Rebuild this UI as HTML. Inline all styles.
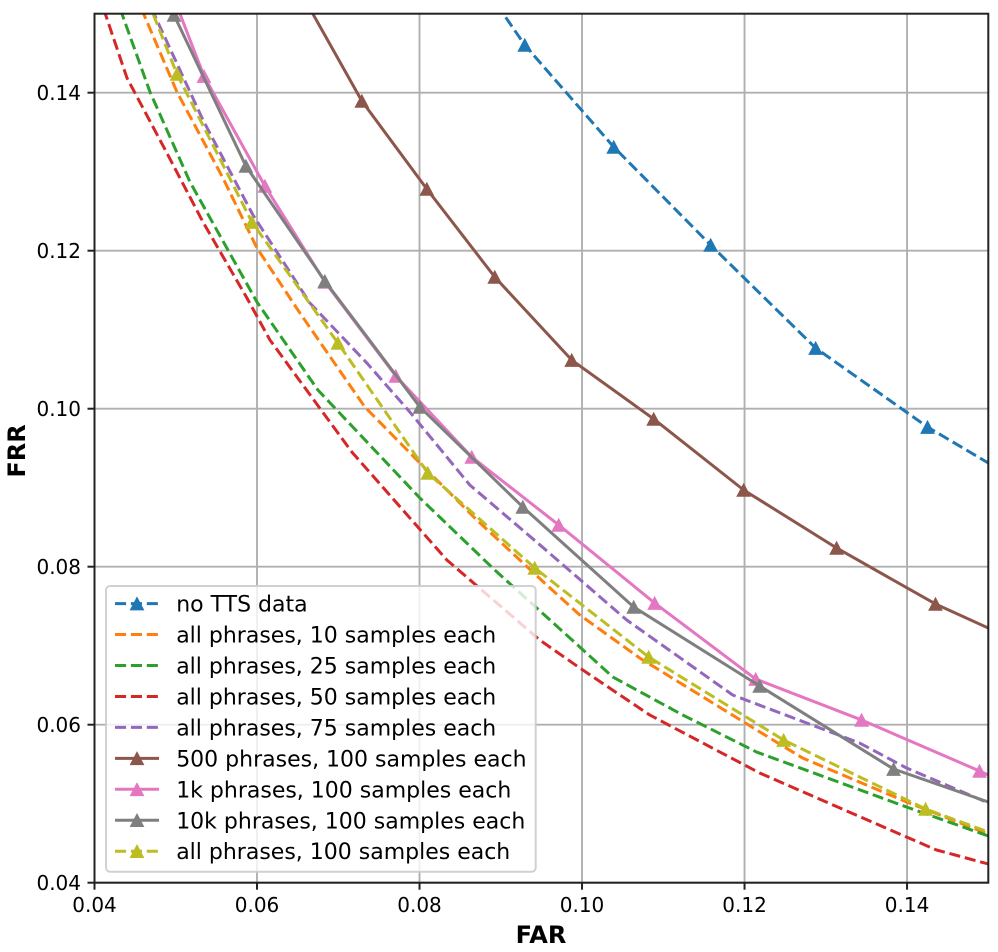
<!DOCTYPE html>
<html>
<head>
<meta charset="utf-8">
<title>FAR vs FRR</title>
<style>
html,body{margin:0;padding:0;background:#fff;width:998px;height:952px;overflow:hidden}
svg{display:block}
text{font-family:"DejaVu Sans",sans-serif;fill:#000}
</style>
</head>
<body>
<svg id="chart" xmlns="http://www.w3.org/2000/svg" width="998" height="952" viewBox="0 0 998 952"></svg>
<script>
const xTicks = [0.04, 0.06, 0.08, 0.10, 0.12, 0.14];
const yTicks = [0.04, 0.06, 0.08, 0.10, 0.12, 0.14];
const xTickLabels = ["0.04", "0.06", "0.08", "0.10", "0.12", "0.14"];
const yTickLabels = ["0.04", "0.06", "0.08", "0.10", "0.12", "0.14"];

const noTtsFar = [0.0895, 0.09295, 0.1039, 0.11583, 0.12875, 0.14252, 0.15];
const noTtsFrr = [0.1512, 0.14604, 0.13313, 0.12072, 0.10768, 0.09768, 0.09313];
const s10Far = [0.0450, 0.05015, 0.05581, 0.05999, 0.06528, 0.07327, 0.08004, 0.08705, 0.09566, 0.09972, 0.1071, 0.12149, 0.12715, 0.13994, 0.15];
const s10Frr = [0.1525, 0.14009, 0.1292, 0.12034, 0.11211, 0.10022, 0.09313, 0.08591, 0.07768, 0.07389, 0.06844, 0.05933, 0.05578, 0.05022, 0.04616];
const s25Far = [0.0425, 0.04683, 0.05175, 0.05999, 0.06749, 0.08004, 0.08926, 0.09443, 0.09972, 0.10378, 0.11239, 0.12149, 0.13994, 0.15];
const s25Frr = [0.1525, 0.14009, 0.1287, 0.11351, 0.10237, 0.0887, 0.07958, 0.07477, 0.06984, 0.06604, 0.06123, 0.05654, 0.04958, 0.04591];
const s50Far = [0.0405, 0.044, 0.04904, 0.05335, 0.05876, 0.06159, 0.07167, 0.08336, 0.0948, 0.09972, 0.10833, 0.12186, 0.13994, 0.14363, 0.15];
const s50Frr = [0.1525, 0.14186, 0.13211, 0.12363, 0.11401, 0.1087, 0.09452, 0.08085, 0.07072, 0.06718, 0.06123, 0.05389, 0.04578, 0.04414, 0.04237];
const s75Far = [0.0462, 0.05335, 0.0595, 0.06651, 0.07352, 0.07881, 0.08619, 0.09455, 0.1055, 0.11854, 0.13416, 0.13994, 0.15];
const s75Frr = [0.1525, 0.13654, 0.12452, 0.11338, 0.10578, 0.09958, 0.09034, 0.083, 0.07325, 0.06376, 0.05768, 0.05452, 0.05009];
const p500Far = [0.0655, 0.0729, 0.0809, 0.08926, 0.09873, 0.10882, 0.11989, 0.13133, 0.1435, 0.15];
const p500Frr = [0.1525, 0.13895, 0.12781, 0.11667, 0.10616, 0.0987, 0.08971, 0.08237, 0.07528, 0.07224];
const p1kFar = [0.0498, 0.05347, 0.06097, 0.06835, 0.07708, 0.08643, 0.09713, 0.10894, 0.12137, 0.1344, 0.14892, 0.15];
const p1kFrr = [0.1519, 0.14211, 0.12819, 0.11604, 0.10414, 0.09389, 0.08528, 0.0754, 0.06578, 0.0606, 0.05414, 0.05363];
const p10kFar = [0.0490, 0.04978, 0.05863, 0.06835, 0.08004, 0.09271, 0.10636, 0.12186, 0.13834, 0.15];
const p10kFrr = [0.1515, 0.14984, 0.13072, 0.11616, 0.10022, 0.08756, 0.0749, 0.0649, 0.05439, 0.05022];
const allFar = [0.0465, 0.05015, 0.05937, 0.06995, 0.08102, 0.09418, 0.1082, 0.12481, 0.14228, 0.15];
const allFrr = [0.1518, 0.14237, 0.12363, 0.10832, 0.09186, 0.07984, 0.06857, 0.05806, 0.04933, 0.04642];

const seriesLabels = ["no TTS data", "all phrases, 10 samples each", "all phrases, 25 samples each", "all phrases, 50 samples each", "all phrases, 75 samples each", "500 phrases, 100 samples each", "1k phrases, 100 samples each", "10k phrases, 100 samples each", "all phrases, 100 samples each"];
const seriesFar = [noTtsFar, s10Far, s25Far, s50Far, s75Far, p500Far, p1kFar, p10kFar, allFar];
const seriesFrr = [noTtsFrr, s10Frr, s25Frr, s50Frr, s75Frr, p500Frr, p1kFrr, p10kFrr, allFrr];
const seriesColors = ["#1f77b4", "#ff7f0e", "#2ca02c", "#d62728", "#9467bd", "#8c564b", "#e377c2", "#7f7f7f", "#bcbd22"];
const seriesDashed = [true, true, true, true, true, false, false, false, true];
const seriesMarkers = [true, false, false, false, false, true, true, true, true];

const NS = "http://www.w3.org/2000/svg";
const svg = document.getElementById("chart");
const L = 94.5, R = 988.3, T = 13.7, B = 882.7;
const xMin = 0.04, xMax = 0.15, yMin = 0.04, yMax = 0.15;
function sx(v) { return L + (v - xMin) / (xMax - xMin) * (R - L); }
function sy(v) { return B - (v - yMin) / (yMax - yMin) * (B - T); }
function mk(tag, attrs, parent) {
  const e = document.createElementNS(NS, tag);
  for (const k in attrs) e.setAttribute(k, attrs[k]);
  (parent || svg).appendChild(e);
  return e;
}
function triPoints(cx, cy) {
  return [[cx, cy - 7.2], [cx - 7.4, cy + 6.8], [cx + 7.4, cy + 6.8]].map(p => p.join(",")).join(" ");
}

const defs = mk("defs", {});
const clip = mk("clipPath", { id: "plot-clip" }, defs);
mk("rect", { x: L, y: T, width: R - L, height: B - T }, clip);

const grid = mk("g", { stroke: "#b0b0b0", "stroke-width": 1.9, fill: "none" });


xTicks.forEach(function (v) {
  const g = mk("line", { x1: sx(v), x2: sx(v), y1: T, y2: B }, grid);
  
  
});
yTicks.forEach(function (v) {
  const g = mk("line", { x1: L, x2: R, y1: sy(v), y2: sy(v) }, grid);
  
  
});

const plot = mk("g", { "clip-path": "url(#plot-clip)" });


seriesLabels.forEach(function (label, i) {
  const far = seriesFar[i], frr = seriesFrr[i];
  const grp = mk("g", {}, plot);
  
  
  const line = mk("polyline", {
    points: far.map((v, j) => sx(v).toFixed(2) + "," + sy(frr[j]).toFixed(2)).join(" "),
    fill: "none", stroke: seriesColors[i], "stroke-width": 3, "stroke-linejoin": "round",
    "stroke-dasharray": seriesDashed[i] ? "11.1 4.8" : "none"
  }, grp);
  
  
  if (seriesMarkers[i]) {
    for (let j = 1; j < far.length - 1; j++) {
      const m = mk("polygon", { points: triPoints(sx(far[j]), sy(frr[j])), fill: seriesColors[i] }, grp);
      
      
    }
  }
});

const legend = mk("g", {});


const lb = mk("rect", { x: 106, y: 586, width: 429.7, height: 285.7, rx: 4, ry: 4, fill: "#fff", "fill-opacity": 0.8, stroke: "#cccccc", "stroke-opacity": 0.9, "stroke-width": 2 }, legend);


seriesLabels.forEach(function (label, i) {
  const cy = 603.6 + i * 30.95;
  const entry = mk("g", {}, legend);
  
  
  const h = mk("line", { x1: 115, x2: 159, y1: cy, y2: cy, stroke: seriesColors[i], "stroke-width": 3, "stroke-dasharray": seriesDashed[i] ? "11.1 4.8" : "none" }, entry);
  
  
  if (seriesMarkers[i]) {
    const m = mk("polygon", { points: triPoints(137, cy), fill: seriesColors[i] }, entry);
    
    
  }
  const t = mk("text", { x: 176.2, y: cy + 8, "font-size": 22 }, entry);
  t.textContent = label;
  
  
});

const spines = mk("rect", { x: L, y: T, width: R - L, height: B - T, fill: "none", stroke: "#222", "stroke-width": 2 });



xTicks.forEach(function (v, i) {
  const tick = mk("line", { x1: sx(v), x2: sx(v), y1: B, y2: B + 7, stroke: "#222", "stroke-width": 2 });
  
  
  const t = mk("text", { x: sx(v), y: 912, "font-size": 20, "text-anchor": "middle" });
  t.textContent = xTickLabels[i];
  
  
});
yTicks.forEach(function (v, i) {
  const tick = mk("line", { x1: L - 7, x2: L, y1: sy(v), y2: sy(v), stroke: "#222", "stroke-width": 2 });
  
  
  const t = mk("text", { x: 81, y: sy(v) + 7.3, "font-size": 20, "text-anchor": "end" });
  t.textContent = yTickLabels[i];
  
  
});

const xt = mk("text", { x: 541, y: 943, "font-size": 24, "font-weight": "bold", "text-anchor": "middle" });
xt.textContent = "FAR";


const yt = mk("text", { x: 0, y: 0, "font-size": 24, "font-weight": "bold", "text-anchor": "middle", transform: "translate(25 451) rotate(-90)" });
yt.textContent = "FRR";


</script>
</body>
</html>
